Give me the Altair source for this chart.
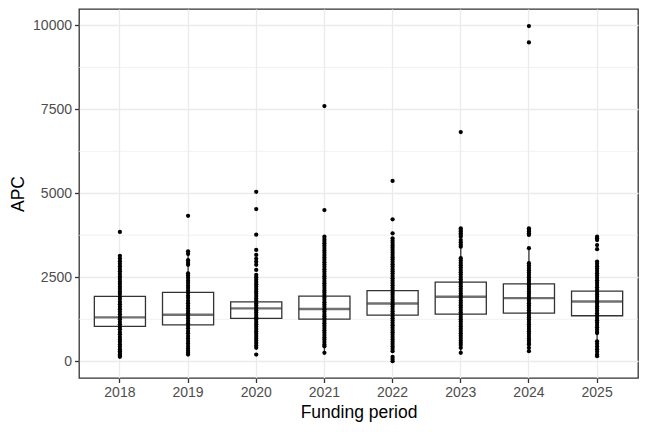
import pandas as pd
import altair as alt

# Funding periods
years = ["2018", "2019", "2020", "2021", "2022", "2023", "2024", "2025"]

# Box statistics
q1 = [1040, 1080, 1275, 1255, 1375, 1405, 1435, 1355]
median = [1305, 1385, 1575, 1555, 1720, 1920, 1880, 1780]
q3 = [1930, 2050, 1770, 1940, 2100, 2355, 2305, 2090]
whisker_lo = [130, 200, 540, 250, 300, 250, 300, 280]
whisker_hi = [3140, 3275, 2500, 2950, 3170, 3760, 3365, 2970]

# Individual APC values per funding period
apc_2018 = [3850, 3140, 3060, 2980, 2900, 2830, 2750, 2680, 2600, 2520, 2450, 2370,
            2300, 2220, 2150, 2070, 2000, 1920, 1850, 1770, 1700, 1620, 1550, 1470,
            1400, 1320, 1250, 1170, 1100, 1020, 950, 870, 800, 720, 650, 580, 500,
            430, 360, 300, 250, 200, 160, 130]
apc_2019 = [4330, 3275, 3200, 3010, 2930, 2870, 2620, 2550, 2480, 2400, 2330, 2250,
            2180, 2100, 2030, 1950, 1880, 1800, 1730, 1650, 1580, 1500, 1430, 1350,
            1280, 1200, 1130, 1050, 980, 900, 830, 750, 680, 600, 530, 450, 380, 310,
            250, 200]
apc_2020 = [5045, 4530, 3770, 3315, 3165, 3050, 2960, 2870, 2720, 2570, 2500, 2430,
            2360, 2290, 2220, 2150, 2080, 2010, 1940, 1870, 1800, 1730, 1660, 1590,
            1520, 1450, 1380, 1310, 1240, 1170, 1100, 1030, 960, 890, 820, 750, 680,
            610, 540, 470, 400, 200]
apc_2021 = [7600, 4500, 3710, 3640, 3580, 3510, 3440, 3370, 3300, 3230, 3160, 3090,
            3020, 2950, 2880, 2810, 2740, 2670, 2600, 2530, 2460, 2390, 2320, 2250,
            2180, 2110, 2040, 1970, 1900, 1830, 1760, 1690, 1620, 1550, 1480, 1410,
            1340, 1270, 1200, 1130, 1060, 990, 920, 850, 780, 710, 640, 570, 500, 445,
            250]
apc_2022 = [5370, 4225, 3810, 3660, 3590, 3520, 3450, 3380, 3310, 3240, 3170, 3100,
            3030, 2960, 2890, 2820, 2750, 2680, 2610, 2540, 2470, 2400, 2330, 2260,
            2190, 2120, 2050, 1980, 1910, 1840, 1770, 1700, 1630, 1560, 1490, 1420,
            1350, 1280, 1210, 1140, 1070, 1000, 930, 860, 790, 720, 650, 580, 510,
            440, 370, 300, 130, 70, 0]
apc_2023 = [6825, 3960, 3910, 3860, 3810, 3760, 3710, 3610, 3540, 3470, 3410, 3070,
            3000, 2930, 2860, 2790, 2720, 2650, 2580, 2510, 2440, 2370, 2300, 2230,
            2160, 2090, 2020, 1950, 1880, 1810, 1740, 1670, 1600, 1530, 1460, 1390,
            1320, 1250, 1180, 1110, 1040, 970, 900, 830, 760, 690, 620, 550, 480, 400,
            250]
apc_2024 = [9980, 9495, 3960, 3910, 3860, 3810, 3760, 3365, 2920, 2850, 2780, 2710,
            2640, 2570, 2500, 2430, 2360, 2290, 2220, 2150, 2080, 2010, 1940, 1870,
            1800, 1730, 1660, 1590, 1520, 1450, 1380, 1310, 1240, 1170, 1100, 1030,
            960, 890, 820, 750, 680, 610, 540, 495, 400, 300]
apc_2025 = [3710, 3660, 3610, 3460, 3335, 2970, 2900, 2830, 2760, 2690, 2620, 2550,
            2480, 2410, 2340, 2270, 2200, 2130, 2060, 1990, 1920, 1850, 1780, 1710,
            1640, 1570, 1500, 1430, 1360, 1290, 1220, 1150, 1080, 1010, 940, 870, 840,
            595, 520, 440, 360, 280, 200, 150]

minor_breaks = [1250, 3750, 6250, 8750]

apc_lists = [apc_2018, apc_2019, apc_2020, apc_2021, apc_2022, apc_2023, apc_2024, apc_2025]
points = pd.DataFrame(
    [(yr, v) for yr, vals in zip(years, apc_lists) for v in vals],
    columns=["period", "APC"]
)
boxes = pd.DataFrame({
    "period": years, "q1": q1, "median": median, "q3": q3,
    "lo": whisker_lo, "hi": whisker_hi,
})
minor = pd.DataFrame({"v": minor_breaks})

x_scale = alt.Scale(domain=years, paddingInner=0.25, paddingOuter=0.225)
y_scale = alt.Scale(domain=[-499.5, 10489.5], nice=False, zero=False)

x_enc = alt.X("period:N", scale=x_scale, title="Funding period",
              axis=alt.Axis(labelAngle=0, bandPosition=0.5, grid=True, titlePadding=4))

grid_minor = alt.Chart(minor).mark_rule(color="#ebebeb", strokeWidth=0.7).encode(
    y=alt.Y("v:Q", scale=y_scale)
)

base = alt.Chart(boxes)

whisk_low = base.mark_rule(color="#333333", strokeWidth=1.3).encode(
    x=x_enc, y=alt.Y("lo:Q", scale=y_scale), y2="q1:Q"
)
whisk_high = base.mark_rule(color="#333333", strokeWidth=1.3).encode(
    x=x_enc, y=alt.Y("q3:Q", scale=y_scale), y2="hi:Q"
)
box = base.mark_bar(fill="white", stroke="#333333", strokeWidth=1.3).encode(
    x=x_enc,
    y=alt.Y("q1:Q", scale=y_scale,
            axis=alt.Axis(values=[0, 2500, 5000, 7500, 10000], format="d", titlePadding=5),
            title="APC"),
    y2="q3:Q",
)
med = base.mark_tick(color="#333333", thickness=2.4, size=51, orient="horizontal").encode(
    x=x_enc, y=alt.Y("median:Q", scale=y_scale)
)
dots = alt.Chart(points).mark_circle(color="black", size=18, opacity=1).encode(
    x=x_enc, y=alt.Y("APC:Q", scale=y_scale)
)

chart = alt.layer(grid_minor, whisk_low, whisk_high, box, med, dots).properties(
    width=559,
    height=369,
    autosize=alt.AutoSizeParams(type="none"),
    padding={"left": 71, "top": 1, "right": 2, "bottom": 46},
).configure_view(
    stroke="#333333", strokeWidth=1.3
).configure_axis(
    labelFont="Liberation Sans", labelFontSize=14, labelColor="#4d4d4d",
    titleFont="Liberation Sans", titleFontSize=17.5, titleFontWeight="normal",
    titleColor="black", tickColor="#333333", tickSize=4.5, tickWidth=1.3,
    labelPadding=3, domain=False, gridColor="#ebebeb", gridWidth=1.3,
)

chart.save("out.html", embed_options={"renderer": "svg", "actions": False})
